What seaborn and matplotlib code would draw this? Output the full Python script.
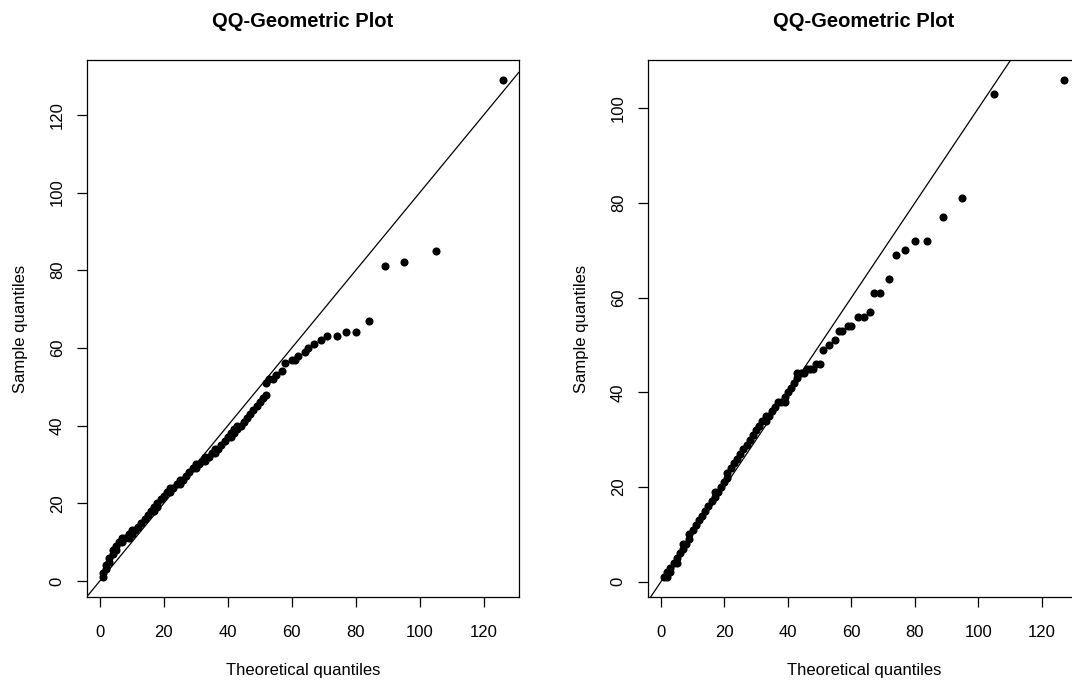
import matplotlib
matplotlib.use("Agg")
import matplotlib.pyplot as plt
import seaborn as sns
import pandas as pd

# ---- data (theoretical vs sample quantiles) ----
left_theoretical = [1, 1, 2, 2, 3, 3, 4, 4, 5, 5, 6, 7, 7, 8, 9, 9, 10, 10, 11, 12,
                    13, 14, 15, 16, 17, 17, 18, 18, 19, 20, 21, 22, 22, 23, 24, 25, 25, 26, 27, 28,
                    29, 30, 30, 31, 32, 33, 33, 34, 35, 36, 36, 37, 38, 39, 40, 41, 41, 42, 42, 43,
                    43, 44, 45, 46, 47, 48, 49, 50, 51, 52, 52, 53, 54, 55, 57, 58, 60, 61, 62, 64,
                    65, 67, 69, 71, 74, 77, 80, 84, 89, 95, 105, 126]
left_sample = [1, 2, 3, 4, 5, 6, 7, 8, 8, 9, 10, 10, 11, 11, 11, 12, 12, 13, 13, 14,
               15, 16, 17, 18, 18, 19, 19, 20, 21, 22, 23, 23, 24, 24, 25, 25, 26, 26, 27, 28,
               29, 29, 30, 30, 31, 31, 32, 32, 33, 33, 34, 34, 35, 36, 37, 37, 38, 38, 39, 39,
               40, 40, 41, 42, 43, 44, 45, 46, 47, 48, 51, 52, 52, 53, 54, 56, 57, 57, 58, 59,
               60, 61, 62, 63, 63, 64, 64, 67, 81, 82, 85, 129]

right_theoretical = [1, 2, 2, 3, 3, 4, 5, 5, 6, 7, 7, 8, 9, 9, 10, 11, 12, 13, 14, 15,
                     16, 17, 17, 18, 19, 20, 21, 21, 22, 23, 24, 25, 26, 27, 28, 29, 30, 31, 32, 33,
                     33, 34, 35, 36, 37, 38, 39, 39, 40, 41, 42, 43, 43, 44, 45, 46, 47, 48, 49, 50,
                     51, 53, 55, 56, 57, 59, 60, 62, 64, 66, 67, 69, 72, 74, 77, 80, 84, 89, 95, 105,
                     127]
right_sample = [1, 1, 2, 2, 3, 4, 4, 5, 6, 7, 8, 8, 9, 10, 11, 12, 13, 14, 15, 16,
                17, 18, 19, 19, 20, 21, 22, 23, 24, 25, 26, 27, 28, 29, 30, 31, 32, 33, 34, 34,
                35, 35, 36, 37, 38, 38, 38, 39, 40, 41, 42, 43, 44, 44, 44, 45, 45, 45, 46, 46,
                49, 50, 51, 53, 53, 54, 54, 56, 56, 57, 61, 61, 64, 69, 70, 72, 72, 77, 81, 103,
                106]

panel_titles = ["QQ-Geometric Plot", "QQ-Geometric Plot"]
x_label = "Theoretical quantiles"
y_label = "Sample quantiles"

panels = [
    pd.DataFrame({"theoretical": left_theoretical, "sample": left_sample}),
    pd.DataFrame({"theoretical": right_theoretical, "sample": right_sample}),
]

sns.set_style("white")
FONT = ["Liberation Sans", "Arial", "DejaVu Sans"]
plt.rcParams["font.family"] = FONT
plt.rcParams["text.color"] = "black"
plt.rcParams["axes.labelcolor"] = "black"
plt.rcParams["xtick.color"] = "black"
plt.rcParams["ytick.color"] = "black"

W, H = 1072, 686
fig = plt.figure(figsize=(W / 100, H / 100), dpi=100)
fig.patch.set_facecolor("white")

ax_rects = [
    [87 / W, 1 - 597 / H, 432 / W, 537 / H],
    [648 / W, 1 - 597 / H, 432 / W, 537 / H],
]


def r_lim(vals):
    lo, hi = min(vals), max(vals)
    pad = 0.04 * (hi - lo)
    return lo - pad, hi + pad


for rect, df, title in zip(ax_rects, panels, panel_titles):
    ax = fig.add_axes(rect)
    sns.scatterplot(data=df, x="theoretical", y="sample", ax=ax,
                    color="black", s=34, linewidth=0, legend=False, zorder=3)
    ax.axline((0, 0), slope=1, color="black", lw=0.9, zorder=2)
    ax.set_xlim(*r_lim(df["theoretical"]))
    ax.set_ylim(*r_lim(df["sample"]))
    ax.set_xticks(range(0, 121, 20))
    ymax = df["sample"].max()
    ax.set_yticks(range(0, int(ymax) + 1, 20))
    ax.tick_params(axis="both", direction="out", length=7, width=0.9,
                   color="black", labelcolor="black", labelsize=12,
                   left=True, bottom=True)
    ax.tick_params(axis="x", pad=13)
    ax.tick_params(axis="y", pad=9)
    for lab in ax.get_yticklabels():
        lab.set_rotation(90)
        lab.set_va("center")
    for sp in ax.spines.values():
        sp.set_visible(True)
        sp.set_color("black")
        sp.set_linewidth(0.9)
    ax.set_xlabel(x_label, fontsize=12, labelpad=17, color="black")
    ax.set_ylabel(y_label, fontsize=12, labelpad=16, color="black")
    ax.set_title(title, fontsize=14.5, fontweight="bold", pad=24, color="black")
    ax.grid(False)

fig.savefig("out.png", dpi=100, facecolor="white")
